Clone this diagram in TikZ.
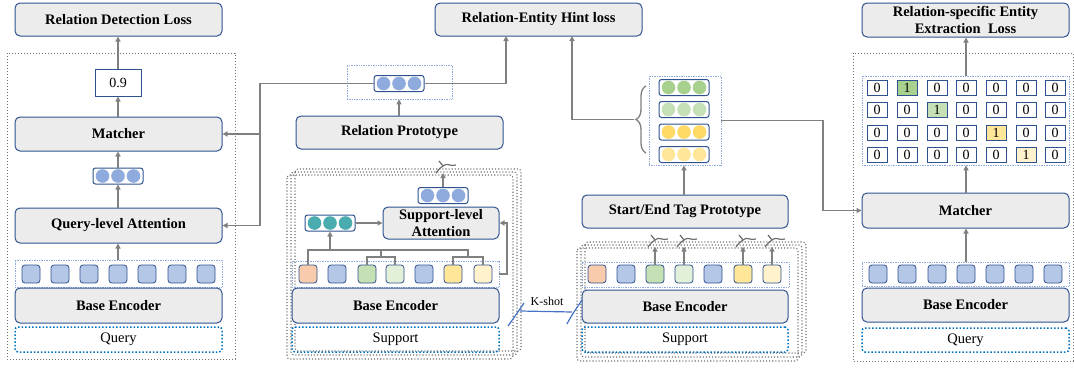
\documentclass[tikz,border=0pt]{standalone}
\usepackage{fontspec}
\setmainfont{Liberation Serif}
\usetikzlibrary{arrows.meta,decorations.pathreplacing,calc}
\definecolor{bcol}{RGB}{47,82,143}
\definecolor{bgray}{RGB}{236,236,236}
\definecolor{tblue}{RGB}{180,199,231}
\definecolor{cblue}{RGB}{143,170,220}
\definecolor{teal1}{RGB}{75,172,176}
\definecolor{torg}{RGB}{248,203,173}
\definecolor{tgrn}{RGB}{197,224,180}
\definecolor{tlgrn}{RGB}{226,240,217}
\definecolor{tyel}{RGB}{255,230,153}
\definecolor{tlyel}{RGB}{255,242,204}
\definecolor{vgrn}{RGB}{169,209,142}
\definecolor{vyel}{RGB}{255,217,102}
\definecolor{agray}{RGB}{128,128,128}
\definecolor{fgray}{RGB}{110,110,110}
\definecolor{qblue}{RGB}{0,112,192}
\definecolor{kblue}{RGB}{68,114,196}
\newcommand\bxat[7]{\node[#2, minimum width={#5-#3}, minimum height={#6-#4}] (#1) at ({(#3+#5)/2},{(#4+#6)/2}) {#7};}
\newcommand\vecn[4]{\node[vecbox] (#1) at (#2,#3) {};
  \foreach \d in {-15.5,0,15.5} \fill[#4] ({#2+\d},#3) circle (6.8pt);}
\newcommand\brk[2]{\draw[fgray, line width=1.2pt] ({#1-7},{#2+6}) .. controls ({#1-3},{#2+1}) .. ({#1},{#2-1}) .. controls ({#1+4},{#2-5}) and ({#1+7},{#2}) .. ({#1+13},{#2-2});
  \draw[fgray, line width=1.2pt] ({#1-4},{#2-6}) -- ({#1},{#2-1});}
\begin{document}
\begin{tikzpicture}[x=1pt,y=-1pt,
 box/.style={draw=bcol, fill=bgray, rounded corners=5pt, line width=1pt, inner sep=0pt, font=\bfseries\fontsize{14.5}{17}\selectfont, align=center},
 qbox/.style={draw=qblue, dotted, line width=1.5pt, rounded corners=3pt, inner sep=0pt, font=\fontsize{14.5}{17}\selectfont},
 tokfr/.style={draw=cblue, densely dotted, line width=0.7pt, inner sep=0pt},
 tok/.style={draw=bcol, line width=0.8pt, rounded corners=3pt, minimum size=18pt, inner sep=0pt},
 vecbox/.style={draw=bcol, fill=white, line width=1pt, rounded corners=2.5pt, minimum width=50pt, minimum height=16pt, inner sep=0pt},
 cell/.style={draw=bcol, fill=white, line width=1pt, minimum width=20pt, minimum height=15pt, inner sep=0pt, font=\fontsize{14}{14}\selectfont},
 arr/.style={draw=agray, line width=1.3pt, -{Triangle[length=5pt,width=5pt]}},
 ln/.style={draw=agray, line width=1.3pt},
 outer/.style={draw=fgray, dotted, line width=1pt},
 sfr/.style={draw=fgray, dotted, line width=1.1pt, rounded corners=3pt}]
\useasboundingbox (0,0) rectangle (1074,367);
% ---------------- left panel ----------------
\draw[outer] (7,53) rectangle (235,359);
\bxat{Lloss}{box}{15}{3}{222}{36}{Relation Detection Loss}
\node[draw=bcol, line width=1pt, fill=white, minimum width=46pt, minimum height=27pt, inner sep=0pt, font=\fontsize{14}{14}\selectfont] (L09) at (118,82.5) {0.9};
\bxat{Lmatch}{box}{15}{117}{222}{151}{Matcher}
\vecn{Lvec}{118}{176}{cblue}
\bxat{Lqla}{box}{15}{208}{222}{243}{Query-level Attention}
\bxat{Ltf}{tokfr}{15}{260}{222}{287}{}
\foreach \x [count=\i] in {31,60,89,118,147,177,206} \node[tok, fill=tblue] (Lt\i) at (\x,274) {};
\bxat{Lbe}{box}{15}{288}{222}{323}{Base Encoder}
\bxat{Lq}{qbox}{15}{327}{222}{352}{Query}
\draw[arr] (L09.north) -- (L09.north |- Lloss.south);
\draw[arr] (Lmatch.north -| L09) -- (L09.south);
\draw[arr] (Lvec.north) -- (Lvec.north |- Lmatch.south);
\draw[arr] (Lqla.north -| Lvec) -- (Lvec.south);
\draw[arr] (Ltf.north -| Lvec) -- (Lvec.south |- Lqla.south);
% ---------------- middle panel ----------------
\bxat{Hint}{box}{435}{3}{642}{36}{Relation-Entity Hint loss}
\bxat{Rfr}{tokfr}{347}{65}{452}{99}{}
\vecn{Rvec}{399}{83.5}{cblue}
\bxat{Rproto}{box}{296}{116}{503}{149}{Relation Prototype}
\draw[arr] (Rproto.north -| Rvec) -- (Rfr.south -| Rvec);
\draw[sfr] (295,169) rectangle (521,351);
\draw[sfr] (291,172) rectangle (517,355);
\draw[sfr] (287,175) rectangle (513,359);
\vecn{Svec}{443}{195.5}{cblue}
\bxat{Sla}{box}{383}{207}{499}{239}{Support-level\\Attention}
\vecn{Tvec}{330}{223}{teal1}
\bxat{Stf}{tokfr}{292}{261}{499}{287}{}
\foreach \x/\c [count=\i] in {308/torg,337/tblue,367/tgrn,395/tlgrn,424/tblue,453/tyel,483/tlyel} \node[tok, fill=\c] (St\i) at (\x,274) {};
\bxat{Sbe}{box}{292}{288}{499}{323}{Base Encoder}
\bxat{Sq}{qbox}{292}{327}{499}{352}{Support}
\coordinate (sv) at (443,173);
\draw[arr] (Svec.north) -- (sv);
\brk{443}{167}
\draw[arr] (Tvec.east) -- (Tvec.east -| Sla.west);
\draw[ln] (St1.north) |- (469,250);
\draw[ln] (St3.north) |- (395,257) -- (St4.north);
\draw[ln] (381,257) -- (381,250);
\draw[ln] (St6.north) |- (483,257) -- (St7.north);
\draw[ln] (468,257) -- (468,250);
\draw[arr] (330,250) -- (Tvec.south);
\coordinate (sr) at (507,274);
\draw[arr] (Stf.east) -- (sr) |- (Sla.east);
% connectors to left panel and hint loss
\coordinate (j1) at (260,83.5);
\coordinate (j2) at (260,134);
\draw[arr] (Rvec.west) -- (j1) |- (Lqla.east);
\draw[arr] (j2) -- (Lmatch.east);
\coordinate (h1) at (506,36);
\draw[arr] (Rvec.east) -| (h1);
% ---------------- start/end panel ----------------
\bxat{Efr}{tokfr}{649}{76}{721}{165}{}
\vecn{Ev1}{684}{87.5}{vgrn}
\vecn{Ev2}{684}{109.5}{tgrn}
\vecn{Ev3}{684}{132}{vyel}
\vecn{Ev4}{684}{154.5}{tyel}
\draw[ln, decorate, decoration={brace, amplitude=10pt}] (646,153) -- (646,86);
\coordinate (bt) at (634,119.5);
\coordinate (h2) at (572,36);
\draw[arr] (bt) -| (h2);
\bxat{Stp}{box}{582}{195}{788}{228}{Start/End Tag Prototype}
\draw[arr] (Stp.north -| Ev1) -- (Efr.south -| Ev1);
\draw[sfr] (585,242) rectangle (806,353);
\draw[sfr] (581,245) rectangle (802,357);
\draw[sfr] (577,248) rectangle (798,361);
\bxat{Etf}{tokfr}{582}{262}{789}{287}{}
\foreach \x/\c [count=\i] in {597/torg,626/tblue,655/tgrn,684/tlgrn,713/tblue,743/tyel,772/tlyel} \node[tok, fill=\c] (Et\i) at (\x,274) {};
\bxat{Ebe}{box}{582}{290}{788}{323}{Base Encoder}
\bxat{Eq}{qbox}{582}{327}{788}{352}{Support}
\foreach \i in {3,4,6,7} {
  \coordinate (ea\i) at ($(Et\i.north)+(0,-18)$);
  \draw[arr] (Et\i.north) -- (ea\i);
}
\brk{655}{241}\brk{684}{241}\brk{743}{241}\brk{772}{241}
% K-shot
\node[font=\fontsize{12}{12}\selectfont, inner sep=0pt] (Kshot) at (547,301) {K-shot};
\draw[kblue, line width=1.2pt] (508,326) .. controls (513,319) and (518,312) .. (524,303);
\draw[kblue, line width=1.2pt] (520,311) -- (572,312);
\draw[kblue, line width=1.2pt] (567,324) .. controls (571,316) and (576,309) .. (582,300);
% ---------------- right panel ----------------
\draw[outer] (853,53) rectangle (1073,361);
\bxat{Rloss}{box}{862}{3}{1069}{37}{Relation-specific Entity\\Extraction~ Loss}
\bxat{Mfr}{tokfr}{862}{76}{1069}{165}{}
\foreach \r/\ry/\one/\oc in {1/88/2/vgrn,2/110/3/tgrn,3/133/5/tyel,4/155/6/tlyel}{
  \foreach \c/\cx in {1/877,2/907,3/937,4/966,5/996,6/1026,7/1055}{
    \ifnum\c=\one \node[cell, fill=\oc] (c\r\c) at (\cx,\ry) {1};
    \else \node[cell] (c\r\c) at (\cx,\ry) {0}; \fi
  }
}
\bxat{Rmatch}{box}{862}{193}{1069}{228}{Matcher}
\bxat{Rtf}{tokfr}{862}{262}{1069}{286}{}
\foreach \x [count=\i] in {878,907,937,966,995,1024,1053} \node[tok, fill=tblue] (Rt\i) at (\x,274) {};
\bxat{Rbe}{box}{862}{288}{1069}{322}{Base Encoder}
\bxat{Rq}{qbox}{862}{328}{1069}{352}{Query}
\draw[arr] (Mfr.north -| c14) -- (Rloss.south -| c14);
\draw[arr] (Rmatch.north -| c14) -- (Mfr.south -| c14);
\draw[arr] (Rtf.north -| c14) -- (Rmatch.south -| c14);
\coordinate (m1) at (823,210.5);
\draw[arr] (Efr.east) -| (m1) -- (Rmatch.west);
\end{tikzpicture}
\end{document}
